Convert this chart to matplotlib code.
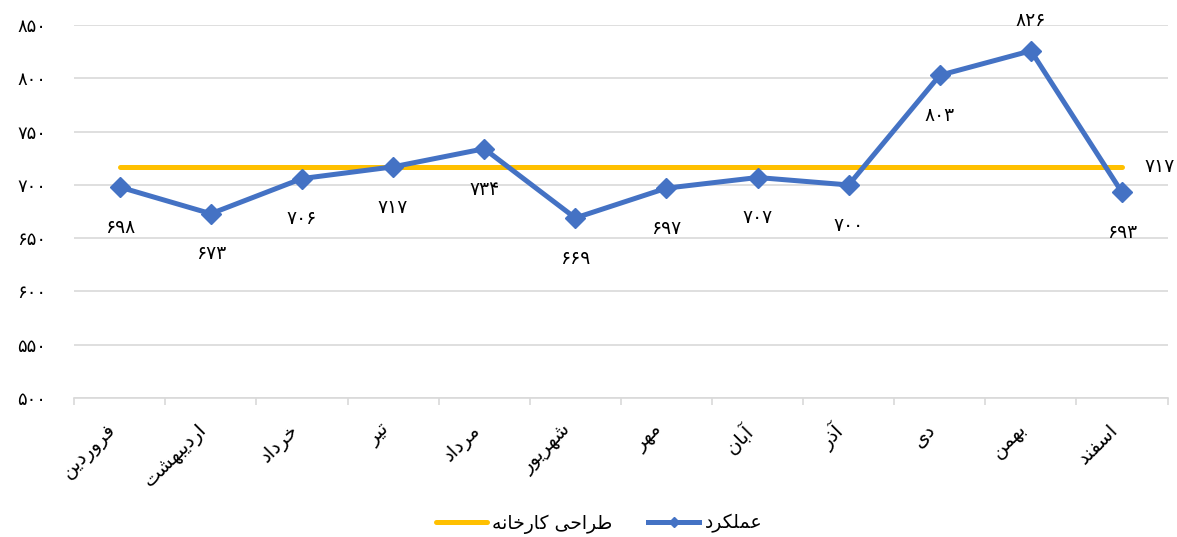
import numpy as np
import matplotlib
matplotlib.use('Agg')
import matplotlib.pyplot as plt

# Data
months = ['فروردین', 'اردیبهشت', 'خرداد', 'تیر', 'مرداد', 'شهریور',
          'مهر', 'آبان', 'آذر', 'دی', 'بهمن', 'اسفند']
performance = [698, 673, 706, 717, 734, 669, 697, 707, 700, 803, 826, 693]
design = [717] * 12
label_above = [False] * 10 + [True, False]
y_ticks = [500, 550, 600, 650, 700, 750, 800, 850]
series_names = ['طراحی کارخانه', 'عملکرد']

BLUE = '#4472C4'
YELLOW = '#FFC000'
GRID = '#D9D9D9'

# Arabic/Persian shaping: (isolated, final, initial, medial); None -> right-joining only
FORMS = {
    'ا': (0xFE8D, 0xFE8E, None, None),
    'آ': (0xFE81, 0xFE82, None, None),
    'ب': (0xFE8F, 0xFE90, 0xFE91, 0xFE92),
    'ت': (0xFE95, 0xFE96, 0xFE97, 0xFE98),
    'ح': (0xFEA1, 0xFEA2, 0xFEA3, 0xFEA4),
    'خ': (0xFEA5, 0xFEA6, 0xFEA7, 0xFEA8),
    'د': (0xFEA9, 0xFEAA, None, None),
    'ذ': (0xFEAB, 0xFEAC, None, None),
    'ر': (0xFEAD, 0xFEAE, None, None),
    'س': (0xFEB1, 0xFEB2, 0xFEB3, 0xFEB4),
    'ش': (0xFEB5, 0xFEB6, 0xFEB7, 0xFEB8),
    'ط': (0xFEC1, 0xFEC2, 0xFEC3, 0xFEC4),
    'ع': (0xFEC9, 0xFECA, 0xFECB, 0xFECC),
    'ف': (0xFED1, 0xFED2, 0xFED3, 0xFED4),
    'ل': (0xFEDD, 0xFEDE, 0xFEDF, 0xFEE0),
    'م': (0xFEE1, 0xFEE2, 0xFEE3, 0xFEE4),
    'ن': (0xFEE5, 0xFEE6, 0xFEE7, 0xFEE8),
    'ه': (0xFEE9, 0xFEEA, 0xFEEB, 0xFEEC),
    'و': (0xFEED, 0xFEEE, None, None),
    'ک': (0xFB8E, 0xFB8F, 0xFB90, 0xFB91),
    'ی': (0xFBFC, 0xFBFD, 0xFBFE, 0xFBFF),
}


def dual(ch):
    return ch in FORMS and FORMS[ch][2] is not None


def shape(text):
    """Pick contextual glyph forms and reverse for left-to-right drawing"""
    out = []
    for i, ch in enumerate(text):
        if ch not in FORMS:
            out.append(ch)
            continue
        prev = text[i - 1] if i > 0 else ''
        nxt = text[i + 1] if i + 1 < len(text) else ''
        join_prev = dual(prev)
        join_next = dual(ch) and nxt in FORMS
        iso, fin, ini, med = FORMS[ch]
        if join_prev and join_next:
            code = med
        elif join_prev:
            code = fin
        elif join_next:
            code = ini
        else:
            code = iso
        out.append(chr(code))
    return ''.join(out)[::-1]


FA_DIGITS = str.maketrans('0123456789', '۰۱۲۳۴۵۶۷۸۹')


def fa_num(v):
    return str(v).translate(FA_DIGITS)


plt.rcParams['font.family'] = ['DejaVu Sans']

fig = plt.figure(figsize=(11.77, 5.37), dpi=100)
ax = fig.add_axes([0.063, 0.259, 0.929, 0.694])

x = np.arange(len(months))

ax.plot(x, design, color=YELLOW, linewidth=3.6, solid_capstyle='round',
        label=shape(series_names[0]), zorder=2)
ax.plot(x, performance, color=BLUE, linewidth=3.6, marker='D', markersize=10,
        label=shape(series_names[1]), zorder=3)

# data labels
for xi, v, up in zip(x, performance, label_above):
    off = 22 if up else -29
    ax.annotate(fa_num(v), (xi, v), xytext=(0, off), textcoords='offset points',
                ha='center', va='center', fontsize=13.5, color='black')
ax.annotate(fa_num(design[-1]), (x[-1], design[-1]), xytext=(27, 0),
            textcoords='offset points', ha='center', va='center', fontsize=13.5)

ax.set_xlim(-0.5, len(months) - 0.5)
ax.set_ylim(500, 850)
ax.set_yticks(y_ticks)
ax.set_yticklabels([fa_num(t) for t in y_ticks], fontsize=13)
ax.yaxis.grid(True, color=GRID, linewidth=1.2)
ax.set_axisbelow(True)

ax.set_xticks(x)
ax.set_xticklabels([shape(m) for m in months], rotation=45, ha='right',
                   fontsize=14)
ax.set_xticks(np.arange(-0.5, len(months)), minor=True)
ax.tick_params(axis='x', which='major', length=0, pad=16)
ax.tick_params(axis='x', which='minor', length=5, color=GRID, width=1.2)
ax.tick_params(axis='y', length=0, pad=20)

for s in ['top', 'right', 'left']:
    ax.spines[s].set_visible(False)
ax.spines['bottom'].set_color(GRID)
ax.spines['bottom'].set_linewidth(1.2)

fig.legend(loc='center', bbox_to_anchor=(0.509, 0.025), ncol=2, frameon=False,
           fontsize=13.5, handlelength=2.7, columnspacing=1.9,
           handletextpad=0.3, markerscale=0.55)

fig.savefig('out.png', dpi=100)
